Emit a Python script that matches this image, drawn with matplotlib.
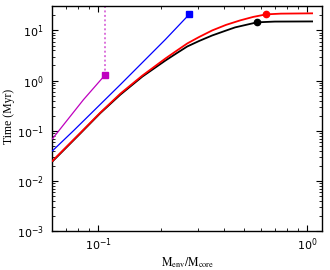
import matplotlib

matplotlib.use("Agg")
import matplotlib.pyplot as plt

# values (x = M_env/M_core, y = time in Myr)
red_x = [0.0602, 0.082, 0.102, 0.1274, 0.1624, 0.2094, 0.236, 0.2666, 0.304, 0.351,
         0.409, 0.478, 0.552, 0.637, 0.75, 1.057]
red_y = [0.0251, 0.0912, 0.229, 0.55, 1.259, 2.754, 3.89, 5.50, 7.41, 10.0,
         12.9, 15.85, 18.6, 20.9, 21.6, 21.9]

black_x = [0.0602, 0.082, 0.102, 0.1274, 0.1624, 0.2094, 0.236, 0.2666, 0.304, 0.351,
           0.409, 0.452, 0.522, 0.576, 0.7, 1.057]
black_y = [0.0245, 0.0891, 0.224, 0.525, 1.202, 2.51, 3.47, 4.79, 6.17, 7.94,
           9.95, 11.5, 13.2, 14.5, 15.0, 15.1]

blue_x = [0.0602, 0.0759, 0.1274, 0.2094, 0.2724]
blue_y = [0.0398, 0.1, 0.832, 6.6, 20.9]

magenta_x = [0.0602, 0.0848, 0.108]
magenta_y = [0.0692, 0.417, 1.318]

red_end = (0.637, 20.9)
black_end = (0.576, 14.5)

x_limits = (0.06, 1.18)
y_limits = (1e-3, 30)


def main() -> None:
    fig = plt.figure(figsize=(3.3, 2.7), dpi=100)
    ax = fig.add_axes([0.158, 0.144, 0.818, 0.832])

    ax.plot(black_x, black_y, color="k", lw=1.3, zorder=3)
    ax.plot(red_x, red_y, color="r", lw=1.3, zorder=4)
    ax.plot(blue_x, blue_y, color="b", lw=0.9, zorder=3)
    ax.plot(magenta_x, magenta_y, color="m", lw=0.9, zorder=3)

    # dotted continuation above the magenta end point
    ax.plot([magenta_x[-1], magenta_x[-1]], [magenta_y[-1], 100], color="m",
            lw=1.4, ls=(0, (1, 1.3)), alpha=0.55, zorder=2)

    ax.plot(magenta_x[-1], magenta_y[-1], "s", color="m", ms=5, zorder=5)
    ax.plot(blue_x[-1], blue_y[-1], "s", color="b", ms=4.5, zorder=5)
    ax.plot(*red_end, "o", color="r", ms=4.5, zorder=5)
    ax.plot(*black_end, "o", color="k", ms=4.5, zorder=5)

    ax.set_xscale("log")
    ax.set_yscale("log")
    ax.set_xlim(*x_limits)
    ax.set_ylim(*y_limits)

    ax.tick_params(which="both", direction="in", top=True, right=True, labelsize=8)
    ax.tick_params(which="major", length=4, width=0.8)
    ax.tick_params(which="minor", length=2, width=0.6)
    ax.tick_params(axis="y", pad=6)
    ax.tick_params(axis="x", pad=4)
    for spine in ax.spines.values():
        spine.set_linewidth(1.0)

    ax.set_xlabel(r"$\mathrm{M_{env}/M_{core}}$", fontsize=8.5, math_fontfamily="stix")
    ax.set_ylabel("Time (Myr)", fontsize=8.5, family="Liberation Serif")
    ax.xaxis.set_label_coords(0.5, -0.107)
    ax.yaxis.set_label_coords(-0.137, 0.51)

    fig.savefig("out.png", dpi=100)
    plt.close(fig)


if __name__ == "__main__":
    main()
